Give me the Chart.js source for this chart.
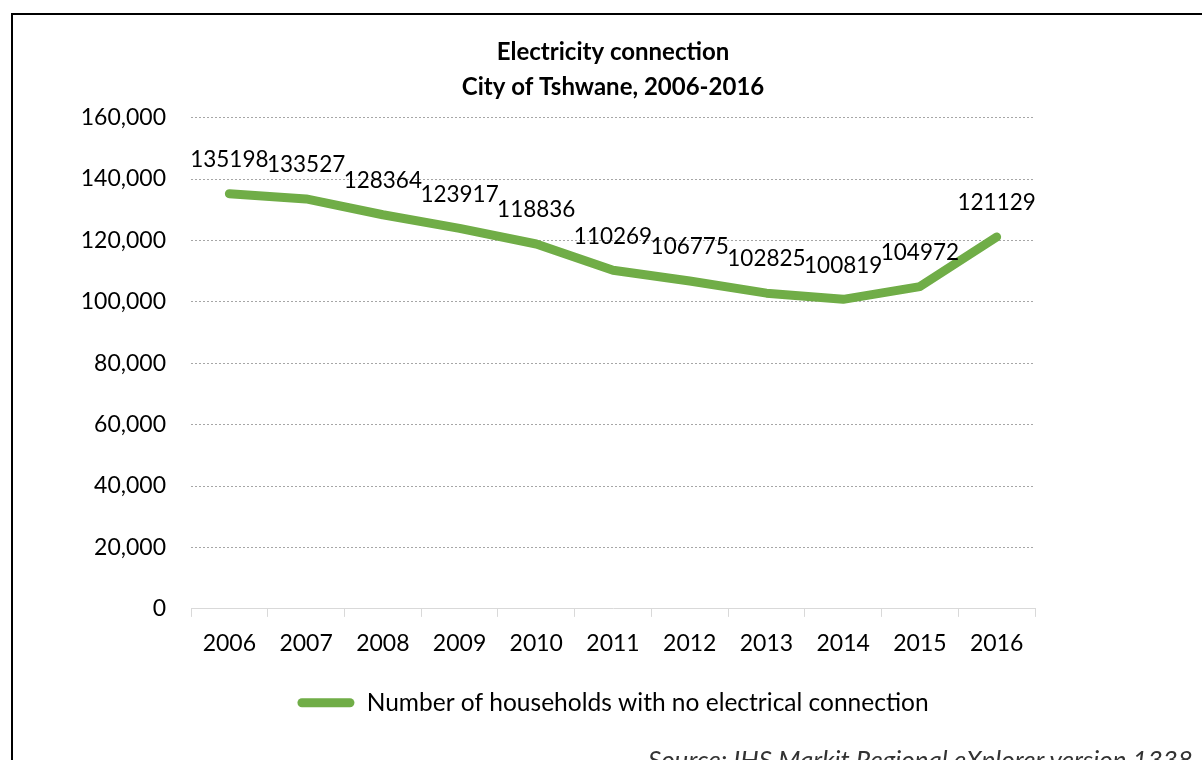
<!DOCTYPE html>
<html>
<head>
<meta charset="utf-8">
<title>Electricity connection</title>
<script src="https://cdn.jsdelivr.net/npm/chart.js@4"></script>
<style>
  body { margin: 0; overflow: hidden; background: #fff; }
  #frame { position: absolute; left: 11px; top: 13px; width: 1400px; height: 900px; border: 2px solid #000; }
  #wrap { position: absolute; left: 0; top: 0; width: 1202px; height: 760px; }
  #source { position: absolute; left: 648px; top: 746px; font: italic 26px/26px Lato, sans-serif; color: #333; white-space: nowrap; }
</style>
</head>
<body>
<div id="frame"></div>
<div id="wrap"><canvas id="chart" width="1202" height="760"></canvas></div>
<div id="source">Source: IHS Markit Regional eXplorer version 1338</div>
<script>
const years = ["2006", "2007", "2008", "2009", "2010", "2011", "2012", "2013", "2014", "2015", "2016"];
const households = [135198, 133527, 128364, 123917, 118836, 110269, 106775, 102825, 100819, 104972, 121129];
const yMax = 160000;
const yStep = 20000;
const titleLines = ["Electricity connection", "City of Tshwane, 2006-2016"];
const seriesName = "Number of households with no electrical connection";

const FONT = "Lato";
const GREEN = "#70AD47";

// value printed above every point of the line
const pointLabels = {
  id: "pointLabels",
  afterDatasetsDraw(chart) {
    const ctx = chart.ctx;
    const meta = chart.getDatasetMeta(0);
    ctx.save();
    ctx.font = "22.5px " + FONT;
    ctx.fillStyle = "#000";
    ctx.textAlign = "center";
    ctx.textBaseline = "middle";
    meta.data.forEach((pt, i) => {
      ctx.fillText(String(households[i]), pt.x, pt.y - 34);
    });
    ctx.restore();
  }
};

new Chart(document.getElementById("chart"), {
  type: "line",
  data: {
    labels: years,
    datasets: [{
      label: seriesName,
      data: households,
      borderColor: GREEN,
      backgroundColor: GREEN,
      borderWidth: 9,
      borderCapStyle: "round",
      borderJoinStyle: "round",
      pointRadius: 0,
      tension: 0,
      fill: false
    }]
  },
  options: {
    responsive: false,
    animation: false,
    layout: { padding: { top: 25, right: 167, bottom: 35, left: 0 } },
    plugins: {
      title: {
        display: true,
        fullSize: false,
        text: titleLines,
        color: "#000",
        font: { family: FONT, size: 24, weight: "bold", lineHeight: 1.45 },
        padding: { top: 10, bottom: 13 }
      },
      legend: {
        position: "bottom",
        fullSize: false,
        labels: {
          color: "#000",
          font: { family: FONT, size: 24.5 },
          boxWidth: 57,
          boxHeight: 9,
          useBorderRadius: true,
          borderRadius: 4.5,
          generateLabels: (chart) =>
            Chart.defaults.plugins.legend.labels.generateLabels(chart).map(l => ({ ...l, lineWidth: 0 }))
        }
      },
      tooltip: { enabled: false }
    },
    scales: {
      x: {
        offset: true,
        afterFit: (scale) => { scale.height += 10; },
        grid: { offset: true, drawOnChartArea: false, tickLength: 8, color: "#d9d9d9" },
        border: { display: true, color: "#d9d9d9" },
        ticks: { padding: 13, color: "#000", font: { family: FONT, size: 23 } }
      },
      y: {
        min: 0,
        max: yMax,
        afterFit: (scale) => { scale.width = 191; },
        ticks: {
          stepSize: yStep,
          padding: 25,
          color: "#000",
          font: { family: FONT, size: 23 },
          callback: (v) => v.toLocaleString("en-US")
        },
        grid: {
          drawTicks: false,
          color: (c) => (c.tick && c.tick.value === 0 ? "rgba(0,0,0,0)" : "#a6a6a6")
        },
        border: { display: false, dash: [2, 2] }
      }
    }
  },
  plugins: [pointLabels]
});
</script>
</body>
</html>
